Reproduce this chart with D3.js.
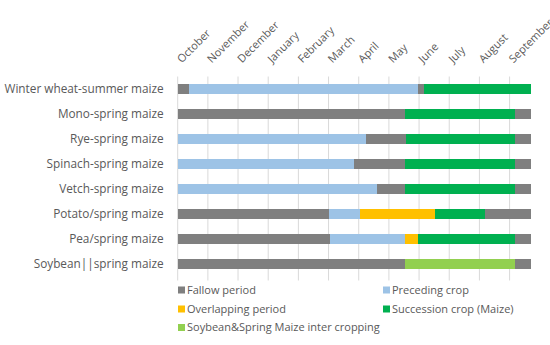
<!DOCTYPE html>
<html>
<head>
<meta charset="utf-8">
<script src="https://cdn.jsdelivr.net/npm/d3@7"></script>
<style>
  body { margin: 0; background: #fff; }
  text { font-family: "Open Sans", sans-serif; }
</style>
</head>
<body>
<svg id="chart" width="550" height="345"></svg>
<script>
// time in 10-day periods (xun) starting 1 October
var months = ["October", "November", "December", "January", "February", "March",
              "April", "May", "June", "July", "August", "September"];

var crops = ["Winter wheat-summer maize", "Mono-spring maize", "Rye-spring maize",
             "Spinach-spring maize", "Vetch-spring maize", "Potato/spring maize",
             "Pea/spring maize", "Soybean||spring maize"];

var phaseNames = ["Fallow period", "Preceding crop", "Overlapping period",
                  "Succession crop (Maize)", "Soybean&Spring Maize inter cropping"];
var phaseColors = ["#7f7f7f", "#9dc3e6", "#ffc000", "#00b050", "#92d050"];

// phase index of each segment, in order
var phases = [
  [0, 1, 0, 3],
  [0, 3, 0],
  [1, 0, 3, 0],
  [1, 0, 3, 0],
  [1, 0, 3, 0],
  [0, 1, 2, 3, 0],
  [0, 1, 2, 3, 0],
  [0, 4, 0]
];

// length of each segment (10-day periods)
var durations = [
  [1.1, 22.8, 0.6, 10.6],
  [22.6, 10.95, 1.55],
  [18.7, 4.0, 10.8, 1.6],
  [17.5, 5.1, 10.95, 1.55],
  [19.85, 2.75, 10.95, 1.55],
  [15.0, 3.15, 7.4, 5.0, 4.55],
  [15.1, 7.5, 1.3, 9.65, 1.55],
  [22.6, 10.9, 1.6]
];

var svg = d3.select("#chart"),
    margin = { top: 76.5, left: 177.7 },
    width = 353,
    height = 200;

var g = svg.append("g").attr("transform", "translate(" + margin.left + "," + margin.top + ")");

var x = d3.scaleLinear().domain([0, 35.1]).range([0, width]);
var y = d3.scaleBand().domain(crops).range([0, height]).paddingInner(0.6).paddingOuter(0.3);

var tickVals = months.map(function (d, i) { return i * 3; });

// gridlines
g.selectAll(".grid")
  .data(tickVals)
  .enter().append("line")
    .attr("x1", function (d) { return x(d); })
    .attr("x2", function (d) { return x(d); })
    .attr("y1", 0)
    .attr("y2", height + 4)
    .attr("stroke", "#d9d9d9")
    .attr("stroke-width", 1);

// month labels
g.selectAll(".month")
  .data(tickVals)
  .enter().append("text")
    .attr("transform", function (d) { return "translate(" + (x(d) + 4) + ",-13) rotate(-45)"; })
    .attr("font-size", 11)
    .attr("fill", "#595959")
    .text(function (d, i) { return months[i]; });

// bars
var rows = g.selectAll(".row")
  .data(crops)
  .enter().append("g")
    .attr("transform", function (d) { return "translate(0," + y(d) + ")"; });

rows.each(function (d, i) {
  var start = 0;
  var segs = durations[i].map(function (v, j) {
    var s = { x0: start, x1: start + v, p: phases[i][j] };
    start += v;
    return s;
  });
  d3.select(this).selectAll("rect")
    .data(segs)
    .enter().append("rect")
      .attr("x", function (s) { return x(s.x0); })
      .attr("width", function (s) { return x(s.x1) - x(s.x0); })
      .attr("height", y.bandwidth())
      .attr("fill", function (s) { return phaseColors[s.p]; })
      .attr("shape-rendering", "crispEdges");
});

// category labels
g.selectAll(".cat")
  .data(crops)
  .enter().append("text")
    .attr("x", -14)
    .attr("y", function (d) { return y(d) + y.bandwidth() / 2; })
    .attr("dy", "0.35em")
    .attr("text-anchor", "end")
    .attr("font-size", 11.8)
    .attr("fill", "#595959")
    .text(function (d) { return d; });

// legend
var legendPos = [[178, 290], [383, 290], [178, 309], [383, 309], [178, 327.5]];
var leg = svg.selectAll(".legend")
  .data(phaseNames)
  .enter().append("g")
    .attr("transform", function (d, i) { return "translate(" + legendPos[i][0] + "," + legendPos[i][1] + ")"; });

leg.append("rect")
  .attr("x", 0).attr("y", -3.5)
  .attr("width", 7).attr("height", 7)
  .attr("fill", function (d, i) { return phaseColors[i]; });

leg.append("text")
  .attr("x", 9)
  .attr("dy", "0.35em")
  .attr("font-size", 11)
  .attr("fill", "#595959")
  .text(function (d) { return d; });
</script>
</body>
</html>
